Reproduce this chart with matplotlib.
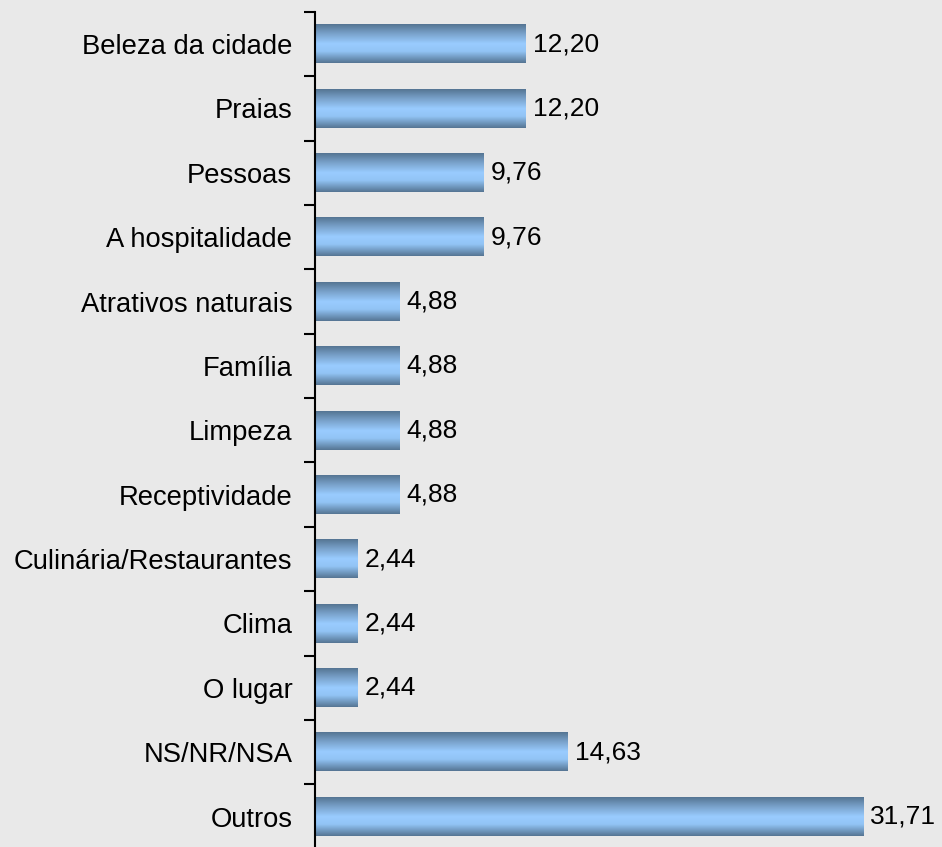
import numpy as np
import matplotlib
matplotlib.use('Agg')
import matplotlib.pyplot as plt
from matplotlib.colors import LinearSegmentedColormap

# Data
categories = ['Beleza da cidade', 'Praias', 'Pessoas', 'A hospitalidade',
              'Atrativos naturais', 'Família', 'Limpeza', 'Receptividade',
              'Culinária/Restaurantes', 'Clima', 'O lugar', 'NS/NR/NSA', 'Outros']
values = [12.20, 12.20, 9.76, 9.76, 4.88, 4.88, 4.88, 4.88,
          2.44, 2.44, 2.44, 14.63, 31.71]

plt.rcParams['font.family'] = ['Liberation Sans', 'DejaVu Sans']

fig = plt.figure(figsize=(9.42, 8.47), dpi=100)
fig.patch.set_facecolor('#e9e9e9')
ax = fig.add_axes([314.5 / 942, -0.002, 1 - 314.5 / 942, 0.988])
ax.set_facecolor('none')

ypos = np.arange(len(categories))
bars = ax.barh(ypos, values, height=0.6, color='none', edgecolor='none')

# vertical gradient: dark steel blue at edges, light blue in the middle
cmap = LinearSegmentedColormap.from_list(
    'barfill', [(0.0, '#557593'), (0.25, '#7aa3cc'), (0.5, '#99ccff'),
                (0.7, '#92c4f5'), (1.0, '#557593')])
grad = np.linspace(0, 1, 128).reshape(-1, 1)
for b in bars:
    x0, y0, w, h = b.get_x(), b.get_y(), b.get_width(), b.get_height()
    ax.imshow(grad, cmap=cmap, aspect='auto', interpolation='bilinear',
              extent=(x0, x0 + w, y0 + h, y0), zorder=2)

for y, v in zip(ypos, values):
    ax.text(v + 0.45, y, f'{v:.2f}'.replace('.', ','), va='center', ha='left',
            fontsize=19, color='black')

ax.set_xlim(0, 36.3)
ax.set_ylim(len(categories) - 0.5, -0.5)

ax.set_yticks(ypos)
ax.set_yticklabels(categories, fontsize=19.7)
ax.set_yticks(np.arange(-0.5, len(categories), 1), minor=True)
ax.tick_params(axis='y', which='major', length=0, pad=16)
ax.tick_params(axis='y', which='minor', length=8, width=1.5, direction='out', color='black')
ax.set_xticks([])

for s in ['top', 'right', 'bottom']:
    ax.spines[s].set_visible(False)
ax.spines['left'].set_linewidth(1.5)
ax.spines['left'].set_color('black')

fig.savefig('out.png', dpi=100, facecolor=fig.get_facecolor())
